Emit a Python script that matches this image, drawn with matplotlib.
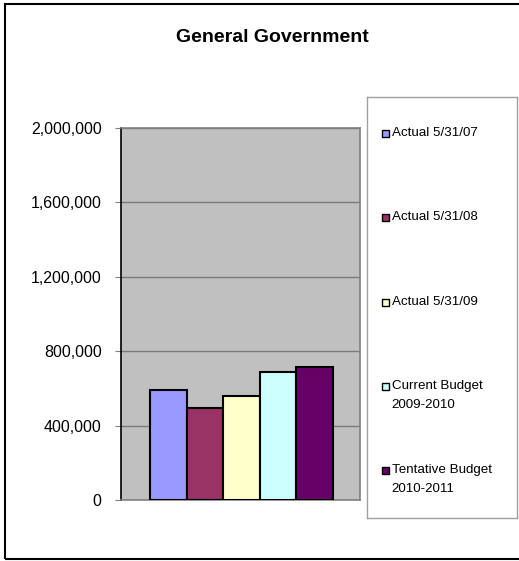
import matplotlib.pyplot as plt
from matplotlib.patches import Rectangle
from matplotlib.ticker import FuncFormatter

plt.rcParams['font.family'] = ['Liberation Sans', 'DejaVu Sans']

# General Government spending by year
labels = ['Actual 5/31/07', 'Actual 5/31/08', 'Actual 5/31/09',
          'Current Budget\n2009-2010', 'Tentative Budget\n2010-2011']
values = [591000, 493000, 559000, 690000, 717000]
colors = ['#9999FF', '#993366', '#FFFFCC', '#CCFFFF', '#660066']
yticks = [0, 400000, 800000, 1200000, 1600000, 2000000]

W, H = 519, 561
fig = plt.figure(figsize=(W / 100, H / 100), dpi=100)

# chart area border
fig.patches.append(Rectangle((5 / W, 1 - 559 / H), 520 / W, 555 / H,
                             transform=fig.transFigure, fill=False,
                             edgecolor='black', linewidth=1.5))

fig.text(272 / W, 1 - 38 / H, 'General Government', ha='center', va='center',
         fontsize=14, fontweight='bold')

# plot area
ax = fig.add_axes([121 / W, 1 - 500 / H, 239 / W, 372 / H])
ax.set_facecolor('#C0C0C0')
x = range(len(values))
ax.bar(x, values, width=1.0, color=colors, edgecolor='black', linewidth=1.5, zorder=3)
ax.set_xlim(-1.29, len(values) - 1 + 1.24)
ax.set_ylim(0, 2000000)
ax.set_yticks(yticks)
ax.yaxis.set_major_formatter(FuncFormatter(lambda v, p: f'{int(v):,}'))
ax.set_xticks([])
ax.tick_params(axis='y', direction='out', length=4, width=0.8, color='#808080',
               pad=10, labelsize=11.5)
ax.yaxis.grid(True, color='#7A7A7A', linewidth=1.0, zorder=1)
ax.set_axisbelow(True)
for side in ['top', 'right', 'bottom']:
    ax.spines[side].set_color('#808080')
    ax.spines[side].set_linewidth(1.2)
ax.spines['left'].set_color('black')
ax.spines['left'].set_linewidth(1.2)

# legend box with evenly spaced entries
lg = fig.add_axes([367 / W, 1 - 518 / H, 150 / W, 421 / H])
lg.set_xlim(367, 517)
lg.set_ylim(518, 97)
lg.set_xticks([])
lg.set_yticks([])
for s in lg.spines.values():
    s.set_color('#A0A0A0')
    s.set_linewidth(1.0)
for i, (lab, c) in enumerate(zip(labels, colors)):
    yc = 133.5 + 84.3 * i
    lg.add_patch(Rectangle((382, yc - 3.5), 7, 7, facecolor=c,
                           edgecolor='black', linewidth=1.0))
    lg.text(391.5, yc - 6.5, lab, ha='left', va='top', fontsize=9.6,
            linespacing=1.8)

fig.savefig('out.png', dpi=100)
